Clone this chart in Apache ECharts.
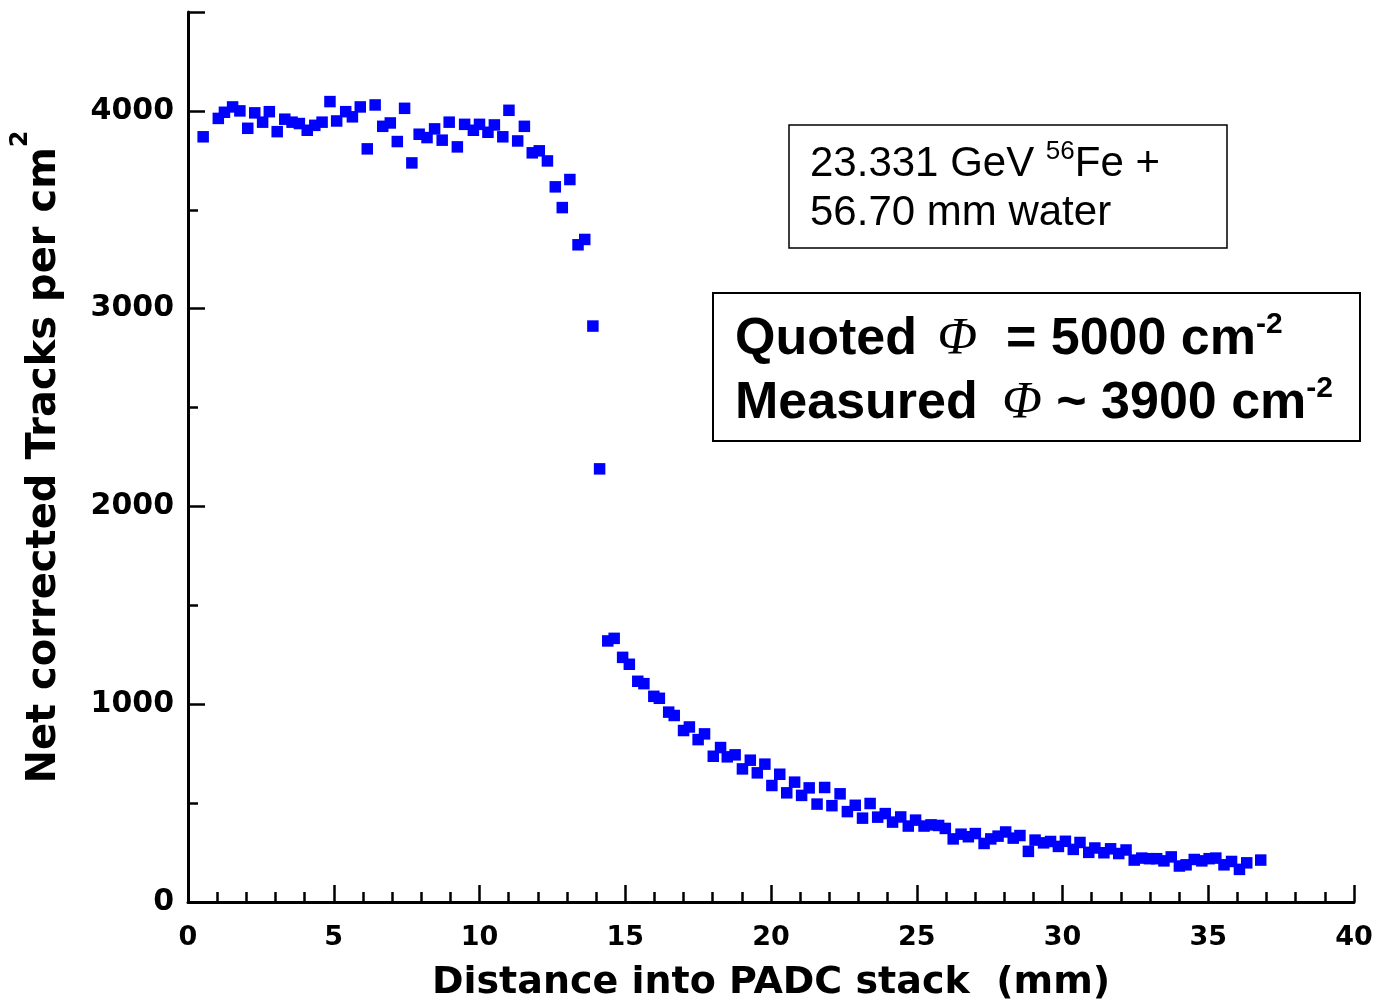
<!DOCTYPE html>
<html>
<head>
<meta charset="utf-8">
<script src="https://cdn.jsdelivr.net/npm/echarts@6/dist/echarts.min.js"></script>
<style>
html,body{margin:0;padding:0;background:#fff;}
#chart{width:1380px;height:1001px;}
</style>
</head>
<body>
<div id="chart"></div>
<script>
// Distance into PADC stack (mm)
const distance = [
  0.52, 1.04, 1.25, 1.53, 1.78, 2.05, 2.29, 2.56, 2.79, 3.06,
  3.32, 3.57, 3.82, 4.09, 4.35, 4.60, 4.87, 5.10, 5.41, 5.64,
  5.91, 6.15, 6.42, 6.68, 6.94, 7.18, 7.43, 7.68, 7.93, 8.20,
  8.46, 8.72, 8.96, 9.24, 9.49, 9.79, 10.00, 10.29, 10.51, 10.80,
  11.01, 11.31, 11.54, 11.81, 12.05, 12.33, 12.60, 12.84, 13.10, 13.38,
  13.61, 13.89, 14.12, 14.40, 14.62, 14.91, 15.14, 15.43, 15.64, 15.98,
  16.17, 16.49, 16.68, 17.00, 17.20, 17.50, 17.72, 18.02, 18.27, 18.50,
  18.77, 19.02, 19.29, 19.53, 19.79, 20.03, 20.30, 20.54, 20.81, 21.05,
  21.31, 21.58, 21.84, 22.09, 22.37, 22.62, 22.89, 23.14, 23.40, 23.66,
  23.92, 24.17, 24.45, 24.71, 24.96, 25.25, 25.49, 25.75, 25.98, 26.25,
  26.52, 26.77, 27.01, 27.31, 27.54, 27.79, 28.05, 28.31, 28.54, 28.83,
  29.06, 29.35, 29.59, 29.86, 30.10, 30.37, 30.60, 30.90, 31.11, 31.42,
  31.65, 31.93, 32.18, 32.46, 32.72, 32.98, 33.23, 33.48, 33.73, 34.01,
  34.24, 34.52, 34.78, 35.03, 35.26, 35.54, 35.80, 36.07, 36.32, 36.80
];
// Net corrected tracks per cm^2
const tracks = [
  3869, 3962, 3993, 4020, 4000, 3912, 3990, 3943, 3996, 3895,
  3958, 3943, 3936, 3902, 3927, 3943, 4047, 3949, 3996, 3970,
  4020, 3808, 4030, 3922, 3939, 3845, 4013, 3737, 3882, 3865,
  3909, 3852, 3943, 3818, 3932, 3902, 3932, 3892, 3929, 3869,
  4003, 3848, 3922, 3788, 3798, 3747, 3616, 3511, 3653, 3323,
  3350, 2912, 2190, 1320, 1333, 1237, 1202, 1116, 1104, 1040,
  1030, 960, 943, 867, 885, 821, 850, 737, 781, 734,
  744, 673, 717, 653, 697, 589, 646, 552, 606, 539,
  577, 495, 579, 487, 547, 457, 489, 424, 498, 429,
  447, 404, 430, 384, 414, 384, 390, 387, 372, 319,
  343, 330, 346, 296, 319, 333, 354, 323, 336, 256,
  313, 299, 306, 281, 307, 266, 301, 251, 273, 249,
  269, 245, 263, 212, 222, 219, 219, 208, 228, 182,
  188, 215, 208, 219, 222, 188, 205, 165, 198, 212
];
const xTicks = [0, 5, 10, 15, 20, 25, 30, 35, 40];
const yTicks = [0, 1000, 2000, 3000, 4000];

const points = distance.map((d, i) => [d, tracks[i]]);
const AX = 'DejaVu Sans';
const BX = 'Liberation Sans';

const chart = echarts.init(document.getElementById('chart'), null, {renderer: 'canvas'});
chart.setOption({
  backgroundColor: '#ffffff',
  animation: false,
  grid: {left: 188, right: 26, top: 12, bottom: 99, containLabel: false, outerBoundsMode: 'none'},
  xAxis: {
    type: 'value', min: xTicks[0], max: xTicks[xTicks.length - 1], interval: 5,
    axisLine: {show: true, lineStyle: {color: '#000', width: 3}},
    axisTick: {show: true, inside: true, length: 17, lineStyle: {color: '#000', width: 2.5}},
    minorTick: {show: true, splitNumber: 5, length: 10, lineStyle: {color: '#000', width: 2.5}},
    splitLine: {show: false},
    axisLabel: {
      margin: 22, color: '#000', fontFamily: AX, fontWeight: 'bold', fontSize: 27,
      formatter: v => xTicks.indexOf(v) >= 0 ? String(v) : ''
    },
    name: 'Distance into PADC stack  (mm)',
    nameLocation: 'middle', nameGap: 62,
    nameTextStyle: {color: '#000', fontFamily: AX, fontWeight: 'bold', fontSize: 38}
  },
  yAxis: [
    {
      type: 'value', min: 0, max: 4500, interval: 500,
      axisLine: {show: true, lineStyle: {color: '#000', width: 3}},
      axisTick: {show: true, inside: true, length: 10, lineStyle: {color: '#000', width: 2.5}},
      splitLine: {show: false},
      axisLabel: {
        margin: 14, color: '#000', fontFamily: AX, fontWeight: 'bold', fontSize: 30,
        formatter: v => yTicks.indexOf(v) >= 0 ? String(v) : ''
      },
      name: '{a|Net corrected Tracks per cm}{s|2}',
      nameLocation: 'middle', nameGap: 123,
      nameTextStyle: {
        color: '#000',
        rich: {
          a: {fontFamily: AX, fontWeight: 'bold', fontSize: 40, color: '#000', lineHeight: 56, verticalAlign: 'bottom'},
          s: {fontFamily: AX, fontWeight: 'bold', fontSize: 24, color: '#000', lineHeight: 24, verticalAlign: 'top'}
        }
      }
    },
    {
      type: 'value', min: 0, max: 4500, interval: 1000, position: 'left',
      axisLine: {show: false},
      axisTick: {show: true, inside: true, length: 17, lineStyle: {color: '#000', width: 2.5}},
      splitLine: {show: false},
      axisLabel: {show: false}
    }
  ],
  series: [{
    type: 'scatter',
    data: points,
    symbol: 'rect',
    symbolSize: 11.5,
    itemStyle: {color: '#0000ff', opacity: 1},
    yAxisIndex: 0
  }],
  graphic: [
    {type: 'rect', shape: {x: 789, y: 125, width: 438, height: 123}, style: {fill: 'none', stroke: '#000', lineWidth: 1.5}},
    {type: 'text', x: 810, y: 162, style: {
      text: '{n|23.331 GeV }{s|56}{n|Fe +}', textVerticalAlign: 'middle',
      rich: {
        n: {fontFamily: BX, fontSize: 42, fill: '#000', lineHeight: 46, verticalAlign: 'bottom'},
        s: {fontFamily: BX, fontSize: 26, fill: '#000', lineHeight: 26, verticalAlign: 'top'}
      }
    }},
    {type: 'text', x: 810, y: 213, style: {
      text: '56.70 mm water', fontFamily: BX, fontSize: 42, fill: '#000', textVerticalAlign: 'middle'
    }},
    {type: 'rect', shape: {x: 713, y: 293, width: 647, height: 148}, style: {fill: 'none', stroke: '#000', lineWidth: 2}},
    {type: 'text', x: 735, y: 338, style: {
      text: '{b|Quoted }{p|Φ}{b|  = 5000 cm}{s|-2}', textVerticalAlign: 'middle',
      rich: {
        b: {fontFamily: BX, fontWeight: 'bold', fontSize: 52, fill: '#000', lineHeight: 56, verticalAlign: 'bottom'},
        p: {fontFamily: 'Liberation Serif', fontStyle: 'italic', fontSize: 52, fill: '#000', lineHeight: 56, verticalAlign: 'bottom', padding: [0, 0, 0, 6]},
        s: {fontFamily: BX, fontWeight: 'bold', fontSize: 30, fill: '#000', lineHeight: 30, verticalAlign: 'top'}
      }
    }},
    {type: 'text', x: 735, y: 402, style: {
      text: '{b|Measured }{p|Φ}{b| ~ 3900 cm}{s|-2}', textVerticalAlign: 'middle',
      rich: {
        b: {fontFamily: BX, fontWeight: 'bold', fontSize: 52, fill: '#000', lineHeight: 56, verticalAlign: 'bottom'},
        p: {fontFamily: 'Liberation Serif', fontStyle: 'italic', fontSize: 52, fill: '#000', lineHeight: 56, verticalAlign: 'bottom', padding: [0, 0, 0, 10]},
        s: {fontFamily: BX, fontWeight: 'bold', fontSize: 30, fill: '#000', lineHeight: 30, verticalAlign: 'top'}
      }
    }}
  ]
});
</script>
</body>
</html>
